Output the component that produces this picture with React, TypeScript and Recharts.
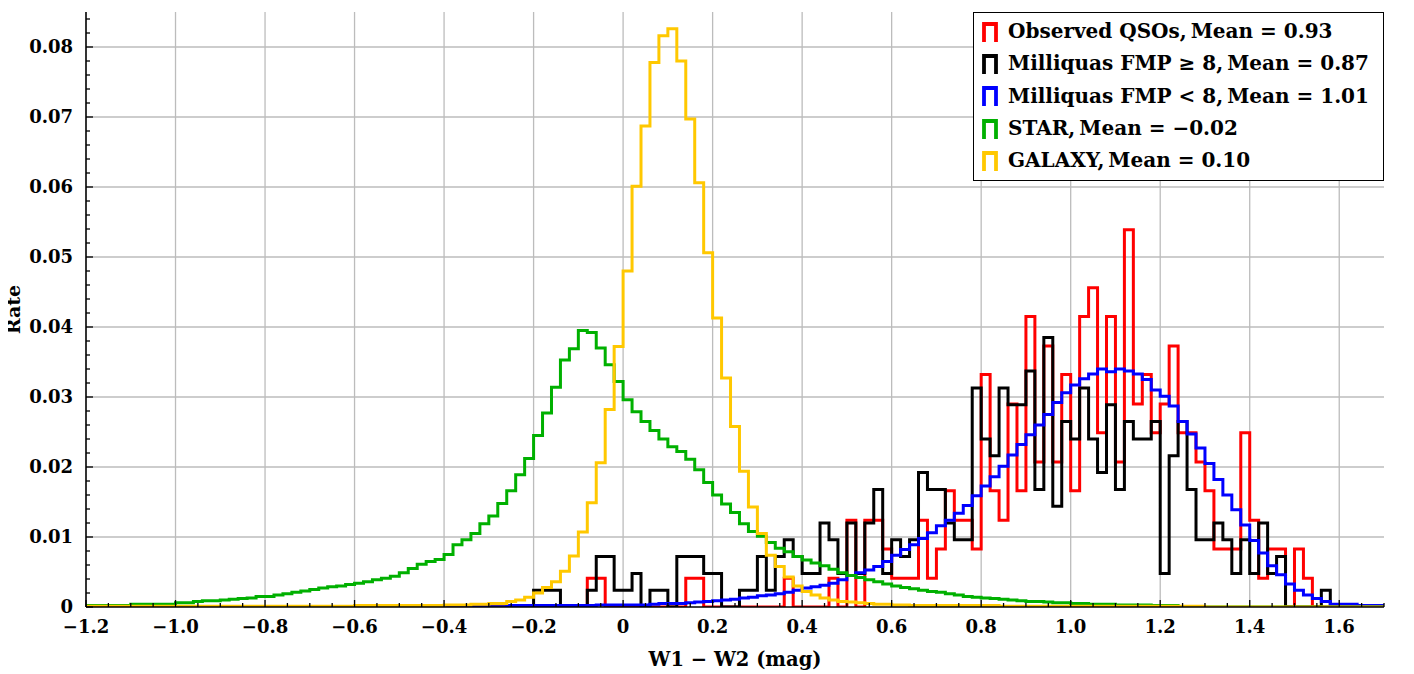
import { CartesianGrid, Line, LineChart, XAxis, YAxis } from 'recharts'

// histogram bins: left edges start at -1.2, width 0.02 (145 bins)
const binStart = -1.2
const binWidth = 0.02

const observed = [
  0, 0, 0, 0, 0, 0, 0, 0, 0, 0,
  0, 0, 0, 0, 0, 0, 0, 0, 0, 0,
  0, 0, 0, 0, 0, 0, 0, 0, 0, 0,
  0, 0, 0, 0, 0, 0, 0, 0, 0, 0,
  0, 0, 0, 0, 0, 0, 0, 0, 0, 0,
  0, 0, 0, 0, 0, 0, 0.0041, 0.0041, 0, 0,
  0, 0, 0, 0, 0, 0, 0, 0.0041, 0.0041, 0,
  0, 0, 0, 0, 0, 0, 0, 0, 0.0041, 0,
  0, 0, 0, 0.0041, 0, 0.0124, 0, 0.0124, 0.0124, 0.0083,
  0.0041, 0.0041, 0.0041, 0.0124, 0.0041, 0.0083, 0.0166, 0.0124, 0.0124, 0.0083,
  0.0332, 0.0166, 0.0124, 0.029, 0.0166, 0.0415, 0.0207, 0.0373, 0.0207, 0.0332,
  0.0166, 0.0415, 0.0456, 0.0249, 0.0415, 0.0207, 0.0539, 0.029, 0.0332, 0.0249,
  0.029, 0.0373, 0.0249, 0.0249, 0.0207, 0.0166, 0.0083, 0.0083, 0.0083, 0.0249,
  0.0124, 0.0041, 0.0083, 0.0083, 0, 0.0083, 0.0041, 0, 0, 0,
  0, 0, 0, 0, 0,
]

const fmpHigh = [
  0, 0, 0, 0, 0, 0, 0, 0, 0, 0,
  0, 0, 0, 0, 0, 0, 0, 0, 0, 0,
  0, 0, 0, 0, 0, 0, 0, 0, 0, 0,
  0, 0, 0, 0, 0, 0, 0, 0, 0, 0,
  0, 0, 0, 0, 0, 0, 0, 0, 0, 0,
  0.0024, 0.0024, 0.0024, 0, 0, 0, 0.0024, 0.0072, 0.0072, 0.0024,
  0.0024, 0.0048, 0, 0.0024, 0.0024, 0, 0.0072, 0.0072, 0.0072, 0.0048,
  0.0048, 0, 0, 0.0024, 0.0024, 0.0072, 0.0024, 0.0072, 0.0096, 0.0072,
  0.0048, 0.0048, 0.012, 0.0096, 0.0048, 0.012, 0.0048, 0.012, 0.0168, 0.0048,
  0.0096, 0.0072, 0.0096, 0.0192, 0.0168, 0.0168, 0.012, 0.0096, 0.0096, 0.0313,
  0.024, 0.0216, 0.0313, 0.0289, 0.0289, 0.0337, 0.0168, 0.0385, 0.0144, 0.0265,
  0.024, 0.0313, 0.024, 0.0192, 0.0289, 0.0168, 0.0265, 0.024, 0.024, 0.0265,
  0.0048, 0.0216, 0.0265, 0.0168, 0.0096, 0.0096, 0.012, 0.0096, 0.0048, 0.0096,
  0.0048, 0.012, 0.0048, 0.0072, 0, 0, 0, 0, 0.0024, 0,
  0, 0, 0, 0, 0,
]

const fmpLow = [
  0, 0, 0, 0, 0, 0, 0, 0, 0, 0,
  0, 0, 0, 0, 0, 0, 0, 0, 0, 0,
  0, 0, 0, 0, 0, 0, 0, 0, 0, 0,
  0, 0, 0, 0, 0, 0, 0, 0, 0, 0,
  0, 0, 0, 0, 0, 0, 0, 0.0002, 0.0002, 0.0002,
  0.0002, 0.0002, 0.0002, 0.0002, 0.0002, 0.0002, 0.0002, 0.0003, 0.0003, 0.0003,
  0.0003, 0.0003, 0.0003, 0.0004, 0.0005, 0.0005, 0.0005, 0.0006, 0.0007, 0.0008,
  0.0009, 0.001, 0.0011, 0.0013, 0.0014, 0.0016, 0.0017, 0.0019, 0.0021, 0.0024,
  0.0027, 0.0029, 0.0031, 0.0034, 0.0039, 0.0045, 0.0049, 0.0053, 0.0058, 0.0065,
  0.0074, 0.0082, 0.0089, 0.0098, 0.0106, 0.0116, 0.0124, 0.0134, 0.0145, 0.0159,
  0.0173, 0.0186, 0.0201, 0.0217, 0.0232, 0.0246, 0.026, 0.0275, 0.0292, 0.0306,
  0.0317, 0.0326, 0.0333, 0.034, 0.0336, 0.034, 0.0337, 0.0333, 0.0325, 0.031,
  0.0301, 0.0287, 0.0265, 0.0247, 0.0227, 0.0205, 0.0182, 0.016, 0.0139, 0.0117,
  0.0095, 0.0077, 0.0059, 0.0046, 0.0033, 0.0024, 0.0017, 0.0012, 0.0008, 0.0004,
  0.0004, 0.0004, 0.0002, 0.0002, 0.0002,
]

const star = [
  0.0002, 0.0002, 0.0002, 0.0002, 0.0002, 0.0004, 0.0004, 0.0004, 0.0004, 0.0004,
  0.0006, 0.0006, 0.0008, 0.0009, 0.0009, 0.001, 0.0011, 0.0012, 0.0013, 0.0015,
  0.0015, 0.0017, 0.0019, 0.0021, 0.0023, 0.0025, 0.0027, 0.0029, 0.003, 0.0032,
  0.0034, 0.0036, 0.0039, 0.0041, 0.0044, 0.0049, 0.0055, 0.0061, 0.0065, 0.0068,
  0.0075, 0.0089, 0.0096, 0.0105, 0.0119, 0.013, 0.0148, 0.0166, 0.0189, 0.0212,
  0.0245, 0.0277, 0.0314, 0.0353, 0.0369, 0.0395, 0.0392, 0.037, 0.0346, 0.0322,
  0.0296, 0.0279, 0.0265, 0.0252, 0.024, 0.0229, 0.0222, 0.0211, 0.0196, 0.0178,
  0.016, 0.0147, 0.0135, 0.0119, 0.0108, 0.0101, 0.0092, 0.0084, 0.0079, 0.0072,
  0.0067, 0.0063, 0.0059, 0.0054, 0.0049, 0.0045, 0.0042, 0.0039, 0.0036, 0.0033,
  0.003, 0.0028, 0.0026, 0.0024, 0.0022, 0.0021, 0.0019, 0.0017, 0.0015, 0.0014,
  0.0013, 0.0012, 0.0011, 0.001, 0.0009, 0.0008, 0.0008, 0.0007, 0.0006, 0.0006,
  0.0005, 0.0005, 0.0004, 0.0004, 0.0004, 0.0003, 0.0003, 0.0003, 0.0003, 0.0002,
  0.0002, 0.0002, 0, 0, 0, 0, 0, 0, 0, 0,
  0, 0, 0, 0, 0, 0, 0, 0, 0, 0,
  0, 0, 0, 0, 0,
]

const galaxy = [
  0.0001, 0.0001, 0.0001, 0.0001, 0.0001, 0.0001, 0.0001, 0.0001, 0.0001, 0.0001,
  0.0001, 0.0001, 0.0001, 0.0001, 0.0001, 0.0001, 0.0001, 0.0001, 0.0001, 0.0001,
  0.0001, 0.0001, 0.0001, 0.0001, 0.0001, 0.0001, 0.0001, 0.0001, 0.0001, 0.0001,
  0.0002, 0.0002, 0.0002, 0.0002, 0.0002, 0.0002, 0.0002, 0.0002, 0.0002, 0.0002,
  0.0003, 0.0003, 0.0003, 0.0004, 0.0004, 0.0005, 0.0005, 0.0008, 0.001, 0.0014,
  0.002, 0.0028, 0.0036, 0.0051, 0.0073, 0.0107, 0.0149, 0.0206, 0.0282, 0.0372,
  0.048, 0.0601, 0.0687, 0.0778, 0.0816, 0.0826, 0.078, 0.0697, 0.0606, 0.0506,
  0.0413, 0.0327, 0.0258, 0.0194, 0.0143, 0.0105, 0.0074, 0.0058, 0.0043, 0.003,
  0.0022, 0.0017, 0.0013, 0.001, 0.0008, 0.0007, 0.0006, 0.0005, 0.0004, 0.0004,
  0.0003, 0.0003, 0.0002, 0.0002, 0.0002, 0.0002, 0.0002, 0.0002, 0.0002, 0.0002,
  0.0002, 0.0002, 0.0001, 0.0001, 0.0001, 0.0001, 0.0001, 0.0001, 0.0001, 0.0001,
  0.0001, 0.0001, 0.0001, 0.0001, 0.0001, 0.0001, 0.0001, 0.0001, 0.0001, 0.0001,
  0.0001, 0.0001, 0.0001, 0.0001, 0.0001, 0, 0, 0, 0, 0,
  0, 0, 0, 0, 0, 0, 0, 0, 0, 0,
  0, 0, 0, 0, 0,
]

// drawn in this order (last on top), same order as the legend
const series = [
  { key: 'observed', label: 'Observed QSOs,\u2009Mean = 0.93', color: '#ff0000', values: observed },
  { key: 'fmpHigh', label: 'Milliquas FMP \u2265 8,\u2009Mean = 0.87', color: '#000000', values: fmpHigh },
  { key: 'fmpLow', label: 'Milliquas FMP < 8,\u2009Mean = 1.01', color: '#0000ff', values: fmpLow },
  { key: 'star', label: 'STAR,\u2009Mean = \u22120.02', color: '#00b000', values: star },
  { key: 'galaxy', label: 'GALAXY,\u2009Mean = 0.10', color: '#ffc800', values: galaxy },
]

const xMajor = [-1.2, -1.0, -0.8, -0.6, -0.4, -0.2, 0, 0.2, 0.4, 0.6, 0.8, 1.0, 1.2, 1.4, 1.6]
const xLabels = ['\u22121.2', '\u22121.0', '\u22120.8', '\u22120.6', '\u22120.4', '\u22120.2', '0', '0.2', '0.4', '0.6', '0.8', '1.0', '1.2', '1.4', '1.6']
const yMajor = [0, 0.01, 0.02, 0.03, 0.04, 0.05, 0.06, 0.07, 0.08]
const yLabels = ['0', '0.01', '0.02', '0.03', '0.04', '0.05', '0.06', '0.07', '0.08']

// minor tick positions (0.05 on x, 0.002 on y)
const xMinor = Array.from({ length: 59 }, (_, i) => +(-1.2 + i * 0.05).toFixed(2))
const yMinor = Array.from({ length: 43 }, (_, i) => +(i * 0.002).toFixed(3))

// step outline: one point per left bin edge plus the final right edge
const rows = Array.from({ length: observed.length + 1 }, (_, i) => {
  const row: Record<string, number> = { x: +(binStart + i * binWidth).toFixed(2) }
  series.forEach(s => { row[s.key] = s.values[i] ?? 0 })
  return row
})

const FONT = "'DejaVu Serif', serif"
const X_MARGIN = 13
const Y_MARGIN = 13
const MAJOR = 7
const MINOR = 4

const majorIndex = (list: number[], v: number) => list.findIndex(t => Math.abs(t - v) < 1e-6)

function BottomTick(props: any) {
  const { x, y, payload } = props
  const k = majorIndex(xMajor, payload.value)
  const y0 = y - X_MARGIN
  return (
    <g>
      <line x1={x} x2={x} y1={y0} y2={y0 - (k >= 0 ? MAJOR : MINOR)} stroke="#000" strokeWidth={1.3} />
      {k >= 0 && (
        <text x={x} y={y} dy="0.71em" textAnchor="middle" fontFamily={FONT} fontWeight="bold" fontSize={18} fill="#000">
          {xLabels[k]}
        </text>
      )}
    </g>
  )
}

function TopTick(props: any) {
  const { x, y, payload } = props
  const k = majorIndex(xMajor, payload.value)
  return <line x1={x} x2={x} y1={y} y2={y + (k >= 0 ? MAJOR : MINOR)} stroke="#000" strokeWidth={1.3} />
}

function LeftTick(props: any) {
  const { x, y, payload } = props
  const k = majorIndex(yMajor, payload.value)
  const x0 = x + Y_MARGIN
  return (
    <g>
      <line x1={x0} x2={x0 + (k >= 0 ? MAJOR : MINOR)} y1={y} y2={y} stroke="#000" strokeWidth={1.3} />
      {k >= 0 && (
        <text x={x} y={y} dy="0.36em" textAnchor="end" fontFamily={FONT} fontWeight="bold" fontSize={18} fill="#000">
          {yLabels[k]}
        </text>
      )}
    </g>
  )
}

function RightTick(props: any) {
  const { x, y, payload } = props
  const k = majorIndex(yMajor, payload.value)
  return <line x1={x} x2={x - (k >= 0 ? MAJOR : MINOR)} y1={y} y2={y} stroke="#000" strokeWidth={1.3} />
}

function LegendBox() {
  return (
    <div
      style={{
        position: 'absolute',
        left: 973,
        top: 12,
        width: 411,
        height: 169,
        boxSizing: 'border-box',
        border: '1.5px solid #000',
        background: '#fff',
        paddingTop: 2,
        fontFamily: FONT,
        fontWeight: 'bold',
        fontSize: 20,
        color: '#000',
      }}
    >
      {series.map(s => (
        <div key={s.key} style={{ display: 'flex', alignItems: 'center', height: 32.3, paddingLeft: 7 }}>
          <svg width={18} height={21} style={{ marginRight: 9, flex: 'none' }}>
            <path d="M3 21 V3 H15 V21" fill="none" stroke={s.color} strokeWidth={3.8} />
          </svg>
          <span style={{ whiteSpace: 'nowrap' }}>{s.label}</span>
        </div>
      ))}
    </div>
  )
}

export default function App() {
  const axisLine = { stroke: '#000', strokeWidth: 1.6 }
  // the wrapper cancels the body margin so the chart uses the whole page
  return (
    <div style={{ position: 'relative', width: 1414, height: 674, margin: '-8px 0 0 -8px', fontFamily: FONT }}>
      <LineChart width={1414} height={674} data={rows} margin={{ top: 12, right: 30, bottom: 6, left: 0 }}>
        <CartesianGrid
          stroke="#bcbcbc"
          strokeWidth={1.3}
          verticalValues={xMajor.slice(1)}
          horizontalValues={yMajor.slice(1)}
        />
        <XAxis
          dataKey="x"
          type="number"
          domain={[-1.2, 1.7]}
          ticks={xMinor}
          interval={0}
          allowDataOverflow
          height={61}
          tickSize={0}
          tickMargin={X_MARGIN}
          tickLine={false}
          axisLine={axisLine}
          tick={BottomTick}
          label={{
            value: 'W1 \u2212 W2 (mag)',
            position: 'insideBottom',
            offset: 2,
            style: { fontFamily: FONT, fontWeight: 'bold', fontSize: 19.5, fill: '#000' },
          }}
        />
        <XAxis
          xAxisId="top"
          orientation="top"
          mirror
          dataKey="x"
          type="number"
          domain={[-1.2, 1.7]}
          ticks={xMinor}
          interval={0}
          allowDataOverflow
          height={0}
          tickSize={0}
          tickMargin={0}
          tickLine={false}
          axisLine={axisLine}
          tick={TopTick}
        />
        <YAxis
          type="number"
          domain={[0, 0.085]}
          ticks={yMinor}
          interval={0}
          allowDataOverflow
          width={86}
          tickSize={0}
          tickMargin={Y_MARGIN}
          tickLine={false}
          axisLine={axisLine}
          tick={LeftTick}
          label={{
            value: 'Rate',
            angle: -90,
            position: 'insideLeft',
            offset: 13,
            style: { textAnchor: 'middle', fontFamily: FONT, fontWeight: 'bold', fontSize: 19, fill: '#000' },
          }}
        />
        <YAxis
          yAxisId="right"
          orientation="right"
          mirror
          type="number"
          domain={[0, 0.085]}
          ticks={yMinor}
          interval={0}
          allowDataOverflow
          width={0}
          tickSize={0}
          tickMargin={0}
          tickLine={false}
          axisLine={axisLine}
          tick={RightTick}
        />
        {series.map(s => (
          <Line
            key={s.key}
            dataKey={s.key}
            name={s.label}
            type="stepAfter"
            stroke={s.color}
            strokeWidth={3}
            dot={false}
            activeDot={false}
            isAnimationActive={false}
          />
        ))}
      </LineChart>
      <LegendBox />
    </div>
  )
}
